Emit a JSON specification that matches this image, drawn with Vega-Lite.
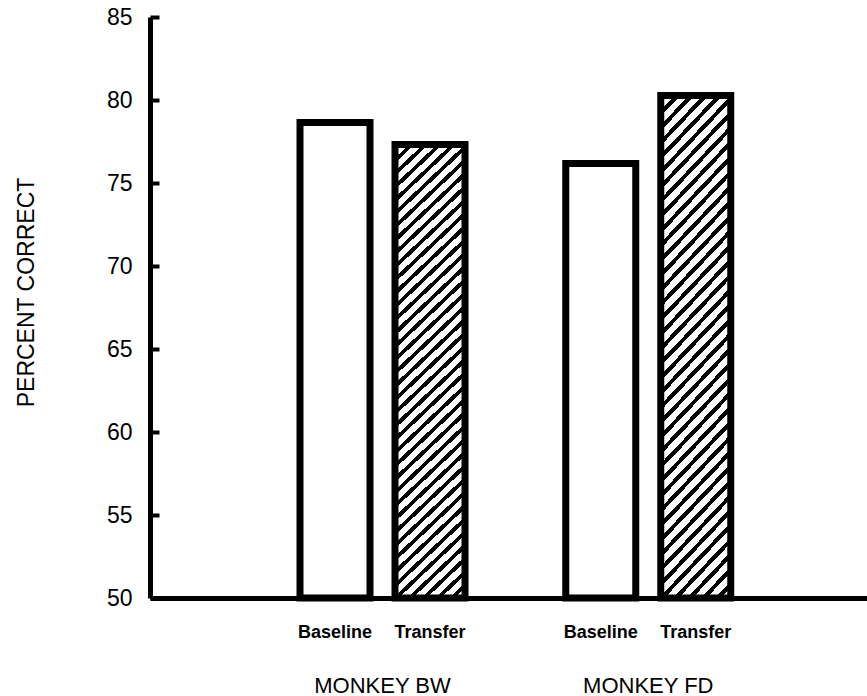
{
  "$schema": "https://vega.github.io/schema/vega-lite/v6.json",
  "autosize": "none",
  "width": 717,
  "height": 581,
  "padding": {"left": 150, "top": 17, "right": 0, "bottom": 98},
  "background": "white",
  "config": {
    "view": {"stroke": null},
    "font": "Liberation Sans"
  },
  "data": {
    "values": [
      {"monkey": "BW", "condition": "Baseline", "pct": 78.64},
      {"monkey": "BW", "condition": "Transfer", "pct": 77.32},
      {"monkey": "FD", "condition": "Baseline", "pct": 76.17},
      {"monkey": "FD", "condition": "Transfer", "pct": 80.27}
    ]
  },
  "encoding": {
    "x": {
      "field": "monkey",
      "type": "nominal",
      "scale": {"domain": ["BW", "FD"], "paddingInner": 0.28504, "paddingOuter": 0.49153, "align": 0.52632, "round": false},
      "axis": {
        "title": null,
        "domain": true,
        "domainColor": "black",
        "domainWidth": 5,
        "ticks": false,
        "labelAngle": 0,
        "labelExpr": "'MONKEY ' + datum.value",
        "labelFont": "Liberation Sans",
        "labelFontSize": 22,
        "labelColor": "black",
        "labelBaseline": "top",
        "labelPadding": 77
      }
    },
    "xOffset": {
      "field": "condition",
      "type": "nominal",
      "scale": {"domain": ["Baseline", "Transfer"], "paddingInner": 0.26316, "paddingOuter": 0.13158, "round": false}
    },
    "y": {
      "field": "pct",
      "type": "quantitative",
      "scale": {"domain": [50, 85], "nice": false, "zero": false},
      "axis": {
        "title": "PERCENT CORRECT",
        "titleFont": "Liberation Sans",
        "titleFontSize": 23,
        "titleFontWeight": "normal",
        "titleColor": "black",
        "titlePadding": 68,
        "titleY": 275,
        "values": [50, 55, 60, 65, 70, 75, 80, 85],
        "grid": false,
        "domain": true,
        "domainColor": "black",
        "domainWidth": 5,
        "ticks": true,
        "tickColor": "black",
        "tickWidth": 4,
        "tickSize": -9,
        "labelFont": "Liberation Sans",
        "labelFontSize": 23,
        "labelColor": "black",
        "labelPadding": 27,
        "labelFlush": false,
        "labelOverlap": false
      }
    }
  },
  "layer": [
    {
      "transform": [{"filter": "datum.condition === 'Baseline'"}],
      "mark": {"type": "bar", "fill": "white", "stroke": "black", "strokeWidth": 7},
      "encoding": {"y2": {"datum": 50}}
    },
    {
      "transform": [{"filter": "datum.condition === 'Transfer'"}],
      "encoding": {"y2": {"datum": 50}},
      "mark": {
        "type": "bar",
        "stroke": "black",
        "strokeWidth": 7,
        "fill": {
          "gradient": "linear",
          "x1": 0, "y1": 0, "x2": 0.168, "y2": 1.147,
          "stops": [
            {"offset": 0, "color": "black"}, {"offset": 0.01, "color": "black"}, {"offset": 0.01, "color": "white"}, {"offset": 0.025, "color": "white"},
            {"offset": 0.025, "color": "black"}, {"offset": 0.035, "color": "black"}, {"offset": 0.035, "color": "white"}, {"offset": 0.05, "color": "white"},
            {"offset": 0.05, "color": "black"}, {"offset": 0.06, "color": "black"}, {"offset": 0.06, "color": "white"}, {"offset": 0.075, "color": "white"},
            {"offset": 0.075, "color": "black"}, {"offset": 0.085, "color": "black"}, {"offset": 0.085, "color": "white"}, {"offset": 0.1, "color": "white"},
            {"offset": 0.1, "color": "black"}, {"offset": 0.11, "color": "black"}, {"offset": 0.11, "color": "white"}, {"offset": 0.125, "color": "white"},
            {"offset": 0.125, "color": "black"}, {"offset": 0.135, "color": "black"}, {"offset": 0.135, "color": "white"}, {"offset": 0.15, "color": "white"},
            {"offset": 0.15, "color": "black"}, {"offset": 0.16, "color": "black"}, {"offset": 0.16, "color": "white"}, {"offset": 0.175, "color": "white"},
            {"offset": 0.175, "color": "black"}, {"offset": 0.185, "color": "black"}, {"offset": 0.185, "color": "white"}, {"offset": 0.2, "color": "white"},
            {"offset": 0.2, "color": "black"}, {"offset": 0.21, "color": "black"}, {"offset": 0.21, "color": "white"}, {"offset": 0.225, "color": "white"},
            {"offset": 0.225, "color": "black"}, {"offset": 0.235, "color": "black"}, {"offset": 0.235, "color": "white"}, {"offset": 0.25, "color": "white"},
            {"offset": 0.25, "color": "black"}, {"offset": 0.26, "color": "black"}, {"offset": 0.26, "color": "white"}, {"offset": 0.275, "color": "white"},
            {"offset": 0.275, "color": "black"}, {"offset": 0.285, "color": "black"}, {"offset": 0.285, "color": "white"}, {"offset": 0.3, "color": "white"},
            {"offset": 0.3, "color": "black"}, {"offset": 0.31, "color": "black"}, {"offset": 0.31, "color": "white"}, {"offset": 0.325, "color": "white"},
            {"offset": 0.325, "color": "black"}, {"offset": 0.335, "color": "black"}, {"offset": 0.335, "color": "white"}, {"offset": 0.35, "color": "white"},
            {"offset": 0.35, "color": "black"}, {"offset": 0.36, "color": "black"}, {"offset": 0.36, "color": "white"}, {"offset": 0.375, "color": "white"},
            {"offset": 0.375, "color": "black"}, {"offset": 0.385, "color": "black"}, {"offset": 0.385, "color": "white"}, {"offset": 0.4, "color": "white"},
            {"offset": 0.4, "color": "black"}, {"offset": 0.41, "color": "black"}, {"offset": 0.41, "color": "white"}, {"offset": 0.425, "color": "white"},
            {"offset": 0.425, "color": "black"}, {"offset": 0.435, "color": "black"}, {"offset": 0.435, "color": "white"}, {"offset": 0.45, "color": "white"},
            {"offset": 0.45, "color": "black"}, {"offset": 0.46, "color": "black"}, {"offset": 0.46, "color": "white"}, {"offset": 0.475, "color": "white"},
            {"offset": 0.475, "color": "black"}, {"offset": 0.485, "color": "black"}, {"offset": 0.485, "color": "white"}, {"offset": 0.5, "color": "white"},
            {"offset": 0.5, "color": "black"}, {"offset": 0.51, "color": "black"}, {"offset": 0.51, "color": "white"}, {"offset": 0.525, "color": "white"},
            {"offset": 0.525, "color": "black"}, {"offset": 0.535, "color": "black"}, {"offset": 0.535, "color": "white"}, {"offset": 0.55, "color": "white"},
            {"offset": 0.55, "color": "black"}, {"offset": 0.56, "color": "black"}, {"offset": 0.56, "color": "white"}, {"offset": 0.575, "color": "white"},
            {"offset": 0.575, "color": "black"}, {"offset": 0.585, "color": "black"}, {"offset": 0.585, "color": "white"}, {"offset": 0.6, "color": "white"},
            {"offset": 0.6, "color": "black"}, {"offset": 0.61, "color": "black"}, {"offset": 0.61, "color": "white"}, {"offset": 0.625, "color": "white"},
            {"offset": 0.625, "color": "black"}, {"offset": 0.635, "color": "black"}, {"offset": 0.635, "color": "white"}, {"offset": 0.65, "color": "white"},
            {"offset": 0.65, "color": "black"}, {"offset": 0.66, "color": "black"}, {"offset": 0.66, "color": "white"}, {"offset": 0.675, "color": "white"},
            {"offset": 0.675, "color": "black"}, {"offset": 0.685, "color": "black"}, {"offset": 0.685, "color": "white"}, {"offset": 0.7, "color": "white"},
            {"offset": 0.7, "color": "black"}, {"offset": 0.71, "color": "black"}, {"offset": 0.71, "color": "white"}, {"offset": 0.725, "color": "white"},
            {"offset": 0.725, "color": "black"}, {"offset": 0.735, "color": "black"}, {"offset": 0.735, "color": "white"}, {"offset": 0.75, "color": "white"},
            {"offset": 0.75, "color": "black"}, {"offset": 0.76, "color": "black"}, {"offset": 0.76, "color": "white"}, {"offset": 0.775, "color": "white"},
            {"offset": 0.775, "color": "black"}, {"offset": 0.785, "color": "black"}, {"offset": 0.785, "color": "white"}, {"offset": 0.8, "color": "white"},
            {"offset": 0.8, "color": "black"}, {"offset": 0.81, "color": "black"}, {"offset": 0.81, "color": "white"}, {"offset": 0.825, "color": "white"},
            {"offset": 0.825, "color": "black"}, {"offset": 0.835, "color": "black"}, {"offset": 0.835, "color": "white"}, {"offset": 0.85, "color": "white"},
            {"offset": 0.85, "color": "black"}, {"offset": 0.86, "color": "black"}, {"offset": 0.86, "color": "white"}, {"offset": 0.875, "color": "white"},
            {"offset": 0.875, "color": "black"}, {"offset": 0.885, "color": "black"}, {"offset": 0.885, "color": "white"}, {"offset": 0.9, "color": "white"},
            {"offset": 0.9, "color": "black"}, {"offset": 0.91, "color": "black"}, {"offset": 0.91, "color": "white"}, {"offset": 0.925, "color": "white"},
            {"offset": 0.925, "color": "black"}, {"offset": 0.935, "color": "black"}, {"offset": 0.935, "color": "white"}, {"offset": 0.95, "color": "white"},
            {"offset": 0.95, "color": "black"}, {"offset": 0.96, "color": "black"}, {"offset": 0.96, "color": "white"}, {"offset": 0.975, "color": "white"},
            {"offset": 0.975, "color": "black"}, {"offset": 0.985, "color": "black"}, {"offset": 0.985, "color": "white"}, {"offset": 1, "color": "white"}
          ]
        }
      }
    },
    {
      "mark": {"type": "text", "font": "Liberation Sans", "fontSize": 18, "fontWeight": "bold", "color": "black", "baseline": "middle", "align": "center", "dy": 35},
      "encoding": {
        "y": {"datum": 50, "type": "quantitative"},
        "text": {"field": "condition"}
      }
    }
  ]
}
